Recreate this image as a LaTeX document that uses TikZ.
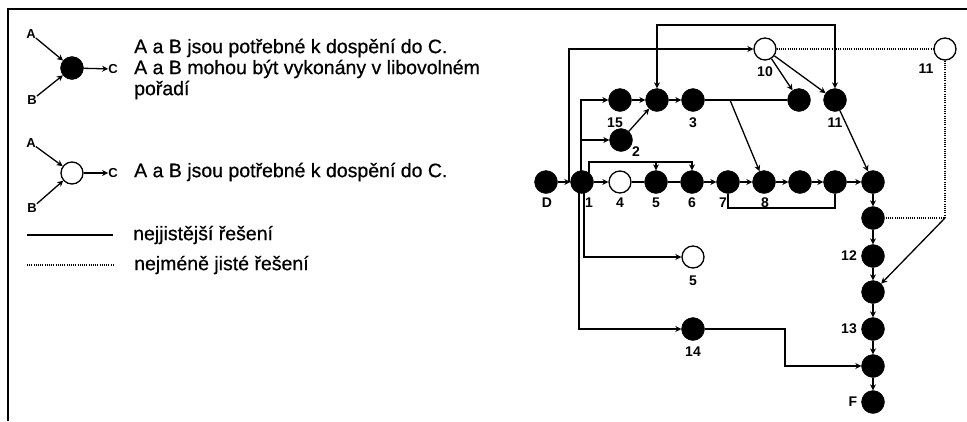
\documentclass[tikz,border=0pt]{standalone}
\usepackage{fontspec}
\setmainfont{Liberation Sans}
\newfontfamily\legfont[FakeBold=0.6]{Liberation Sans}
\usetikzlibrary{arrows.meta}
\begin{document}
\begin{tikzpicture}[x=1pt,y=-1pt,
  full/.style={circle,fill=black,draw=black,inner sep=0pt,minimum size=23pt},
  open/.style={circle,fill=white,draw=black,line width=1.3pt,inner sep=0pt,minimum size=22pt},
  conn/.style={line width=1.3pt},
  arr/.style={conn,-{Stealth[length=6pt,width=6pt]}},
  biarr/.style={conn,{Stealth[length=6pt,width=6pt]}-{Stealth[length=6pt,width=6pt]}},
  dots/.style={line width=1.7pt,dash pattern=on 1pt off 1.2pt},
  lbl/.style={font=\fontsize{14}{14}\selectfont\bfseries,inner sep=0pt},
  letter/.style={font=\fontsize{13}{13}\selectfont\bfseries,inner sep=0pt},
  legtext/.style={font=\legfont\fontsize{19.5}{21}\selectfont,inner sep=0pt,anchor=west,align=left},
  frame/.style={line width=1.7pt}]
\useasboundingbox (0,0) rectangle (967,421);
% frame
\draw[frame] (967,9) -- (8,9) -- (8,421);

% ---------- legend ----------
\node[letter] (LA1) at (31,34) {A};
\node[letter] (LB1) at (32,100) {B};
\node[full] (LN1) at (72,68) {};
\node[letter] (LC1) at (113,69) {C};
\draw[arr] (LA1) -- (LN1);
\draw[arr] (LB1) -- (LN1);
\draw[arr] (LN1) -- (LC1);
\node[legtext] (LT1) at (134,69) {A a B jsou potřebné k dospění do C.\\A a B mohou být vykonány v libovolném\\pořadí};

\node[letter] (LA2) at (31,143) {A};
\node[letter] (LB2) at (32,208) {B};
\node[open] (LN2) at (72,173) {};
\node[letter] (LC2) at (113,173) {C};
\draw[arr] (LA2) -- (LN2);
\draw[arr] (LB2) -- (LN2);
\draw[arr] (LN2) -- (LC2);
\node[legtext] (LT2) at (134,172) {A a B jsou potřebné k dospění do C.};

\coordinate (S1) at (27,235);
\coordinate (S2) at (113,235);
\draw[conn] (S1) -- (S2);
\node[legtext] (LT3) at (133,235) {nejjistější řešení};
\coordinate (P1) at (27,265);
\coordinate (P2) at (113,265);
\draw[dots,line width=1.4pt] (P1) -- (P2);
\node[legtext] (LT4) at (134,265) {nejméně jisté řešení};

% ---------- network ----------
\node[full] (D) at (546,182) {};
\node[full] (n1) at (582,182) {};
\node[open] (n4) at (620,182) {};
\node[full] (n5) at (656,182) {};
\node[full] (n6) at (692,182) {};
\node[full] (n7) at (728,182) {};
\node[full] (n8) at (764,182) {};
\node[full] (n9) at (800,182) {};
\node[full] (n10r) at (835,182) {};
\node[full] (c0) at (873,182) {};
\node[full] (n15) at (620,100) {};
\node[full] (j) at (657,100) {};
\node[full] (n3) at (693,100) {};
\node[full] (t) at (799,100) {};
\node[full] (n11) at (835,100) {};
\node[full] (n2) at (621,140) {};
\node[open] (o10) at (765,49) {};
\node[open] (o11) at (945,49) {};
\node[full] (c1) at (873,218) {};
\node[full] (c12) at (873,256) {};
\node[full] (c2) at (873,292) {};
\node[full] (c13) at (873,329) {};
\node[full] (c3) at (873,366) {};
\node[full] (F) at (873,402) {};
\node[open] (o5) at (693,257) {};
\node[full] (n14) at (693,329) {};

% labels
\node[lbl] at (547,203) {D};
\node[lbl] at (589,203) {1};
\node[lbl] at (620,203) {4};
\node[lbl] at (656,203) {5};
\node[lbl] at (692,203) {6};
\node[lbl] at (723,203) {7};
\node[lbl] at (765,203) {8};
\node[lbl] at (615,123) {15};
\node[lbl] at (693,123) {3};
\node[lbl] at (835,123) {11};
\node[lbl] at (636,152) {2};
\node[lbl] at (765,72) {10};
\node[lbl] at (926,69) {11};
\node[lbl] at (849,256) {12};
\node[lbl] at (849,329) {13};
\node[lbl] at (853,402) {F};
\node[lbl] at (693,281) {5};
\node[lbl] at (693,352) {14};

% main row
\draw[arr] (D) -- (n1);
\draw[arr] (n1) -- (n4);
\draw[conn] (n4) -- (n5);
\draw[conn] (n5) -- (n6);
\draw[arr] (n6) -- (n7);
\draw[arr] (n7) -- (n8);
\draw[arr] (n8) -- (n9);
\draw[arr] (n9) -- (n10r);
\draw[arr] (n10r) -- (c0);
% column
\draw[arr] (c0) -- (c1);
\draw[arr] (c1) -- (c12);
\draw[arr] (c12) -- (c2);
\draw[arr] (c2) -- (c13);
\draw[arr] (c13) -- (c3);
\draw[arr] (c3) -- (F);

% branch to 10
\coordinate (bD) at (569,182);
\draw[arr] (bD) |- (o10);
% from 1 upward
\coordinate (u1) at (581,172);
\draw[arr] (u1) |- (n15);
\coordinate (u2) at (584,140);
\draw[arr] (u2) -- (n2);
\draw[conn] (581,140) -- (u2);
% from 1 over to 5 and 6
\coordinate (u3) at (589,173);
\coordinate (k5) at (656,162);
\draw[arr] (u3) |- (692,162) -- (n6);
\draw[arr] (k5) -- (n5);
% from 1 downward
\coordinate (d1) at (584,192);
\coordinate (d2) at (579,192);
\draw[arr] (d1) |- (o5);
\draw[arr] (d2) |- (n14);
\coordinate (k14) at (785,366);
\draw[arr] (n14) -| (k14) -- (c3);

% upper row
\draw[arr] (n15) -- (j);
\draw[arr] (j) -- (n3);
\draw[arr] (n2) -- (j);
\draw[conn] (n3) -- (t);
\coordinate (k3) at (730,100);
\draw[arr] (k3) -- (n8);
\draw[arr] (o10) -- (t);
\draw[arr] (o10) -- (n11);
\draw[arr] (n11) -- (c0);
\coordinate (top) at (657,25);
\draw[biarr] (j) -- (top) -| (n11);
% loop under 7..
\coordinate (k7) at (728,208);
\draw[conn] (n7) -- (k7) -| (n10r);

% dotted
\draw[dots] (o10) -- (o11);
\coordinate (k11) at (945,218);
\draw[dots] (o11) -- (k11) -- (c1);
\draw[arr] (k11) -- (c2);
\end{tikzpicture}
\end{document}
